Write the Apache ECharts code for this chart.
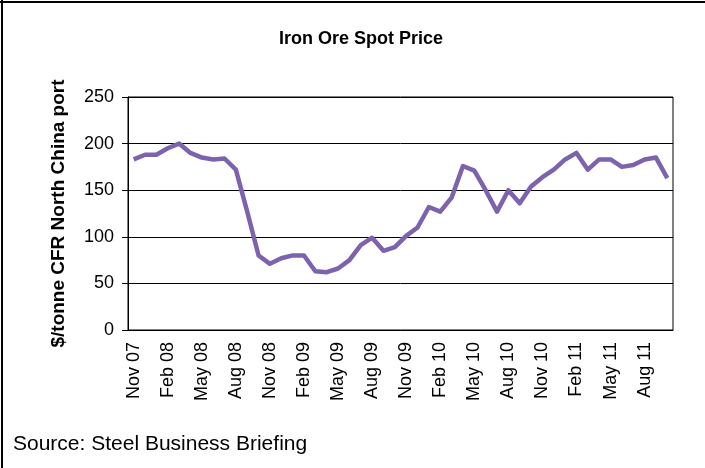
<!DOCTYPE html>
<html>
<head>
<meta charset="utf-8">
<title>Iron Ore Spot Price</title>
<script src="https://cdn.jsdelivr.net/npm/echarts@6/dist/echarts.min.js"></script>
<style>
  html, body { margin: 0; padding: 0; background: #fff; }
  #chart { width: 705px; height: 468px; }
</style>
</head>
<body>
<div id="chart"></div>
<script>
// months, Nov 07 - Oct 11
var months = [
  'Nov 07', 'Dec 07', 'Jan 08', 'Feb 08', 'Mar 08', 'Apr 08', 'May 08', 'Jun 08', 'Jul 08', 'Aug 08', 'Sep 08', 'Oct 08',
  'Nov 08', 'Dec 08', 'Jan 09', 'Feb 09', 'Mar 09', 'Apr 09', 'May 09', 'Jun 09', 'Jul 09', 'Aug 09', 'Sep 09', 'Oct 09',
  'Nov 09', 'Dec 09', 'Jan 10', 'Feb 10', 'Mar 10', 'Apr 10', 'May 10', 'Jun 10', 'Jul 10', 'Aug 10', 'Sep 10', 'Oct 10',
  'Nov 10', 'Dec 10', 'Jan 11', 'Feb 11', 'Mar 11', 'Apr 11', 'May 11', 'Jun 11', 'Jul 11', 'Aug 11', 'Sep 11', 'Oct 11'
]
// spot price, $/tonne CFR North China port
var prices = [
  183, 188, 188, 195, 200, 190, 185, 183, 184, 172, 127, 80,
  71, 77, 80, 80, 63, 62, 66, 75, 91, 99, 85, 89,
  101, 110, 132, 127, 142, 176, 171, 150, 127, 150, 136, 154,
  164, 172, 183, 190, 172, 183, 183, 175, 177, 183, 185, 163
]
var yTicks = [0, 50, 100, 150, 200, 250]

var fontName = 'Liberation Sans, Arial, sans-serif'
var myChart = echarts.init(document.getElementById('chart'))

var option = {
  animation: false,
  backgroundColor: '#fff',
  title: {
    text: 'Iron Ore Spot Price',
    left: 356,
    top: 25,
    textAlign: 'center',
    textStyle: { fontFamily: fontName, fontSize: 18, fontWeight: 'bold', color: '#000' }
  },
  grid: {
    left: 128,
    right: 32,
    top: 97,
    bottom: 138,
    show: true,
    borderColor: '#000',
    borderWidth: 1
  },
  xAxis: {
    type: 'category',
    data: months,
    boundaryGap: true,
    axisLine: { lineStyle: { color: '#000', width: 1 } },
    axisTick: { interval: 0, length: 5, lineStyle: { color: '#000' } },
    axisLabel: {
      interval: 2,
      rotate: 90,
      margin: 12,
      fontFamily: fontName,
      fontSize: 18,
      color: '#000'
    }
  },
  yAxis: {
    type: 'value',
    min: yTicks[0],
    max: yTicks[yTicks.length - 1],
    interval: 50,
    name: '$/tonne CFR North China port',
    nameLocation: 'middle',
    nameGap: 60,
    nameTextStyle: { fontFamily: fontName, fontSize: 19, fontWeight: 'bold', color: '#000' },
    axisLine: { show: true, lineStyle: { color: '#000', width: 1 } },
    axisTick: { show: true, length: 6, lineStyle: { color: '#000' } },
    axisLabel: { margin: 14, fontFamily: fontName, fontSize: 18, color: '#000' },
    splitLine: { lineStyle: { color: '#000', width: 1 } }
  },
  series: [
    {
      type: 'line',
      data: prices,
      symbol: 'none',
      lineStyle: { color: '#7D63AE', width: 4.5, join: 'round' }
    }
  ],
  graphic: [
    // outer frame (top + left only)
    { type: 'line', shape: { x1: 0, y1: 2, x2: 705, y2: 2 }, style: { stroke: '#000', lineWidth: 2 } },
    { type: 'line', shape: { x1: 2, y1: 0, x2: 2, y2: 468 }, style: { stroke: '#000', lineWidth: 2 } },
    {
      type: 'text',
      left: 13,
      top: 434,
      style: { text: 'Source: Steel Business Briefing', font: '21px ' + fontName, fill: '#000' }
    }
  ]
}
myChart.setOption(option)
</script>
</body>
</html>
